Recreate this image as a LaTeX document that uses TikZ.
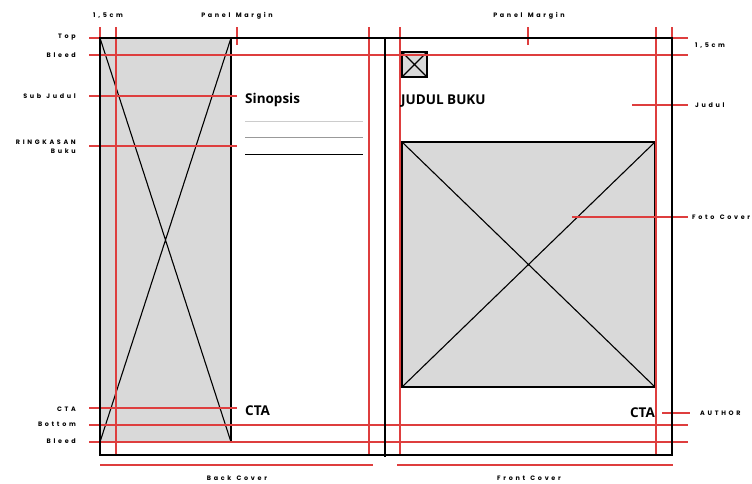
\documentclass[tikz,border=0pt]{standalone}
\usepackage{fontspec}
\setmainfont{Open Sans}
\newfontfamily\lblfont[LetterSpace=42,WordSpace=1.3]{Poppins}
\definecolor{guide}{RGB}{222,62,62}
\definecolor{fillg}{RGB}{217,217,217}
\begin{document}
\begin{tikzpicture}[x=1pt,y=-1pt,
  guideline/.style={draw=guide,line width=1.1pt},
  edge/.style={draw=black,line width=1.7pt},
  thin/.style={draw=black,line width=1.1pt},
  lbl/.style={font=\lblfont\fontsize{6.4}{7.6}\selectfont\bfseries,inner sep=0pt},
  head/.style={font=\fontsize{13.5}{15}\selectfont\bfseries,inner sep=0pt}]
\useasboundingbox (0,0) rectangle (752,483);
% fills
\fill[fillg] (100,38) rectangle (231,442);
\fill[fillg] (402,52) rectangle (427,77);
\fill[fillg] (402,142) rectangle (655,387);
% placeholder frames and crosses
\draw[thin] (231,38) -- (231,442);
\draw[thin] (100,38) -- (231,442) (231,38) -- (100,442);
\draw[thin] (402,52) rectangle (427,77);
\draw[thin] (402,52) -- (427,77) (427,52) -- (402,77);
\draw[thin] (402,142) rectangle (655,387);
\draw[thin] (402,142) -- (655,387) (655,142) -- (402,387);
% sinopsis lines
\draw[gray!40,line width=0.8pt] (245,121) -- (363,121);
\draw[gray!80,line width=0.8pt] (245,137) -- (363,137);
\draw[black,line width=0.8pt] (245,154) -- (363,154);
% red guides vertical
\foreach \x in {100,116,369,400,656,672} \draw[guideline] (\x,27) -- (\x,455);
% red guides horizontal
\foreach \y in {38,55,425,442} \draw[guideline] (89,\y) -- (688,\y);
\foreach \y in {96,146,408} \draw[guideline] (89,\y) -- (237,\y);
\draw[guideline] (237,27) -- (237,45);
\draw[guideline] (528,27) -- (528,45);
\draw[guideline] (632,105) -- (688,105);
\draw[guideline] (572,217) -- (688,217);
\draw[guideline] (662,413) -- (690,413);
\draw[guideline] (100,465) -- (373,465);
\draw[guideline] (397,465) -- (673,465);
% outer frame and spine
\draw[edge] (100,38) rectangle (672,455);
\draw[edge] (385,38) -- (385,457);
% texts
\node[head,anchor=west] (sinopsis) at (245,100) {Sinopsis};
\node[head,anchor=west] (ctaL) at (245,411) {CTA};
\node[head,anchor=west] (judulbuku) at (401,101) {JUDUL BUKU};
\node[head,anchor=east] (ctaR) at (655,413) {CTA};
\node[lbl,anchor=east] (top) at (76,37) {Top};
\node[lbl,anchor=east] (bleed1) at (76,55) {Bleed};
\node[lbl,anchor=east] (subjudul) at (76,96) {Sub Judul};
\node[lbl,anchor=east,align=right] (ringkasan) at (76,146.5) {RINGKASAN\\[1pt]Buku};
\node[lbl,anchor=east] (cta) at (76,409) {CTA};
\node[lbl,anchor=east] (bottom) at (76,424) {Bottom};
\node[lbl,anchor=east] (bleed2) at (76,441) {Bleed};
\node[lbl,anchor=west] (cmL) at (93,16) {1,5cm};
\node[lbl] (pmL) at (237,16) {Panel Margin};
\node[lbl] (pmR) at (529,16) {Panel Margin};
\node[lbl,anchor=west] (cmR) at (695,46) {1,5cm};
\node[lbl,anchor=west] (judul) at (695,105) {Judul};
\node[lbl,anchor=west] (foto) at (692,217) {Foto Cover};
\node[lbl,anchor=west] (author) at (700,413) {AUTHOR};
\node[lbl] (back) at (237,478) {Back Cover};
\node[lbl] (front) at (529,478) {Front Cover};
\end{tikzpicture}
\end{document}
